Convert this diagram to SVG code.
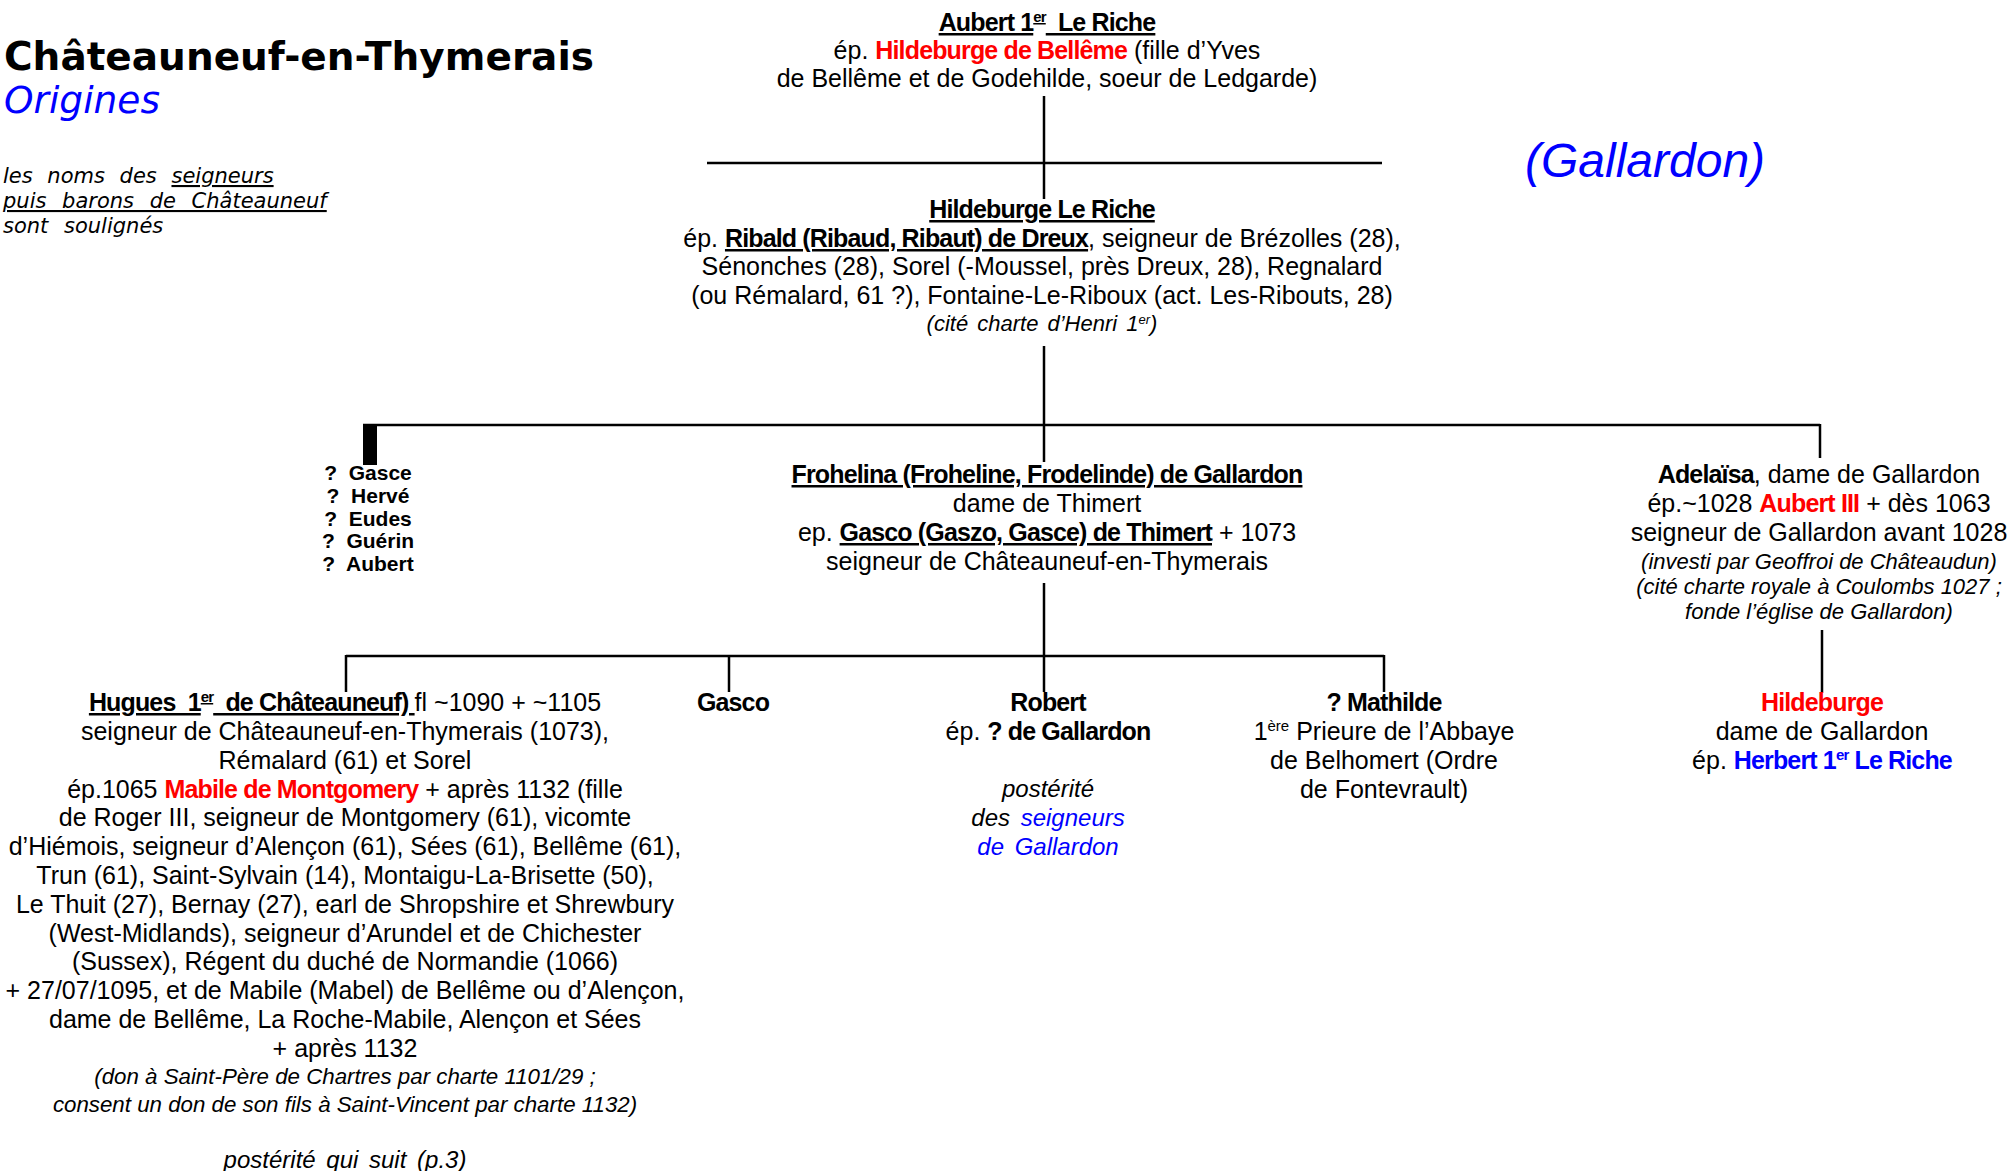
<svg xmlns="http://www.w3.org/2000/svg" width="2009" height="1171" viewBox="0 0 2009 1171">
<style>
.t{font-family:"Liberation Sans",Arial,sans-serif;font-size:25px;fill:#000}
.c{text-anchor:middle}
.b{font-weight:bold;letter-spacing:-0.85px}
.i{font-style:italic;font-size:22px}
.p{font-style:italic;font-size:24px;word-spacing:4px}
.u{text-decoration:underline}
.r{fill:#ff0000}
.bl{fill:#0000ff}
.q{font-size:21px;font-weight:bold}
.dj{font-family:"DejaVu Sans",Verdana,sans-serif}
.ln{stroke:#000;stroke-width:2.5;fill:none}
</style>
<rect width="2009" height="1171" fill="#fff"/>
<g id="legend">
<text class="dj" x="4" y="70" style="font-size:39px;font-weight:bold">Châteauneuf-en-Thymerais</text>
<text class="dj bl" x="4" y="113" style="font-size:37.5px;font-style:italic">Origines</text>
<text class="dj" x="3" y="183" style="font-size:21px;font-style:italic;word-spacing:8px">les noms des <tspan class="u">seigneurs</tspan></text>
<text class="dj u" x="3" y="208" style="font-size:21px;font-style:italic;word-spacing:9px">puis barons de Châteauneuf</text>
<text class="dj" x="3" y="233" style="font-size:21px;font-style:italic;word-spacing:9px">sont soulignés</text>
<text class="t bl" x="1525" y="177" style="font-size:48px;font-style:italic">(Gallardon)</text>
</g>
<g id="connectors">
<line class="ln" x1="1044" y1="96" x2="1044" y2="199"/>
<line class="ln" x1="707" y1="163" x2="1382" y2="163"/>
<line class="ln" x1="1044" y1="346" x2="1044" y2="462"/>
<line class="ln" x1="363" y1="425" x2="1820" y2="425"/>
<rect x="363" y="424" width="14" height="41" fill="#000"/>
<line class="ln" x1="1820" y1="424" x2="1820" y2="458"/>
<line class="ln" x1="1044" y1="583" x2="1044" y2="692"/>
<line class="ln" x1="346" y1="656" x2="1384" y2="656"/>
<line class="ln" x1="346" y1="655" x2="346" y2="692"/>
<line class="ln" x1="729" y1="656" x2="729" y2="692"/>
<line class="ln" x1="1384" y1="655" x2="1384" y2="692"/>
<line class="ln" x1="1822" y1="630" x2="1822" y2="693"/>
</g>
<g id="aubert1">
<text class="t c" x="1047" y="31"><tspan class="b u">Aubert 1<tspan dy="-9" font-size="15">er</tspan><tspan dy="9">&#160; Le Riche</tspan></tspan></text>
<text class="t c" x="1047" y="59">ép. <tspan class="b r">Hildeburge de Bellême</tspan> (fille d’Yves</text>
<text class="t c" x="1047" y="87">de Bellême et de Godehilde, soeur de Ledgarde)</text>
</g>
<g id="hildeburge-le-riche">
<text class="t c" x="1042" y="218"><tspan class="b u">Hildeburge Le Riche</tspan></text>
<text class="t c" x="1042" y="247">ép. <tspan class="b u">Ribald (Ribaud, Ribaut) de Dreux</tspan>, seigneur de Brézolles (28),</text>
<text class="t c" x="1042" y="275">Sénonches (28), Sorel (-Moussel, près Dreux, 28), Regnalard</text>
<text class="t c" x="1042" y="304">(ou Rémalard, 61 ?), Fontaine-Le-Riboux (act. Les-Ribouts, 28)</text>
<text class="t c i" x="1042" y="331" style="word-spacing:3px">(cité charte d’Henri 1<tspan dy="-7" font-size="13">er</tspan><tspan dy="7">)</tspan></text>
</g>
<g id="freres">
<text class="t c q" x="368" y="480">?&#160; Gasce</text>
<text class="t c q" x="368" y="503">?&#160; Hervé</text>
<text class="t c q" x="368" y="526">?&#160; Eudes</text>
<text class="t c q" x="368" y="548">?&#160; Guérin</text>
<text class="t c q" x="368" y="571">?&#160; Aubert</text>
</g>
<g id="frohelina">
<text class="t c" x="1047" y="483"><tspan class="b u">Frohelina (Froheline, Frodelinde) de Gallardon</tspan></text>
<text class="t c" x="1047" y="512">dame de Thimert</text>
<text class="t c" x="1047" y="541">ep. <tspan class="b u">Gasco (Gaszo, Gasce) de Thimert</tspan> + 1073</text>
<text class="t c" x="1047" y="570">seigneur de Châteauneuf-en-Thymerais</text>
</g>
<g id="adelaisa">
<text class="t c" x="1819" y="483"><tspan class="b">Adelaïsa</tspan>, dame de Gallardon</text>
<text class="t c" x="1819" y="512">ép.~1028 <tspan class="b r">Aubert III</tspan> + dès 1063</text>
<text class="t c" x="1819" y="541">seigneur de Gallardon avant 1028</text>
<text class="t c i" x="1819" y="569">(investi par Geoffroi de Châteaudun)</text>
<text class="t c i" x="1819" y="594">(cité charte royale à Coulombs 1027 ;</text>
<text class="t c i" x="1819" y="619">fonde l’église de Gallardon)</text>
</g>
<g id="hugues">
<text class="t c" x="345" y="711"><tspan class="b u">Hugues&#160; 1<tspan dy="-9" font-size="15">er</tspan><tspan dy="9">&#160; de Châteauneuf) </tspan></tspan>fl ~1090 + ~1105</text>
<text class="t c" x="345" y="740">seigneur de Châteauneuf-en-Thymerais (1073),</text>
<text class="t c" x="345" y="769">Rémalard (61) et Sorel</text>
<text class="t c" x="345" y="798">ép.1065 <tspan class="b r">Mabile de Montgomery</tspan> + après 1132 (fille</text>
<text class="t c" x="345" y="826">de Roger III, seigneur de Montgomery (61), vicomte</text>
<text class="t c" x="345" y="855">d’Hiémois, seigneur d’Alençon (61), Sées (61), Bellême (61),</text>
<text class="t c" x="345" y="884">Trun (61), Saint-Sylvain (14), Montaigu-La-Brisette (50),</text>
<text class="t c" x="345" y="913">Le Thuit (27), Bernay (27), earl de Shropshire et Shrewbury</text>
<text class="t c" x="345" y="942">(West-Midlands), seigneur d’Arundel et de Chichester</text>
<text class="t c" x="345" y="970">(Sussex), Régent du duché de Normandie (1066)</text>
<text class="t c" x="345" y="999">+ 27/07/1095, et de Mabile (Mabel) de Bellême ou d’Alençon,</text>
<text class="t c" x="345" y="1028">dame de Bellême, La Roche-Mabile, Alençon et Sées</text>
<text class="t c" x="345" y="1057">+ après 1132</text>
<text class="t c i" x="345" y="1084" style="font-size:22.3px">(don à Saint-Père de Chartres par charte 1101/29 ;</text>
<text class="t c i" x="345" y="1112" style="font-size:22.3px">consent un don de son fils à Saint-Vincent par charte 1132)</text>
<text class="t c p" x="345" y="1168">postérité qui suit (p.3)</text>
</g>
<g id="gasco">
<text class="t c b" x="733" y="711">Gasco</text>
</g>
<g id="robert">
<text class="t c b" x="1048" y="711">Robert</text>
<text class="t c" x="1048" y="740">ép. <tspan class="b">? de Gallardon</tspan></text>
<text class="t c p" x="1048" y="797">postérité</text>
<text class="t c p" x="1048" y="826">des <tspan class="bl">seigneurs</tspan></text>
<text class="t c p bl" x="1048" y="855">de Gallardon</text>
</g>
<g id="mathilde">
<text class="t c b" x="1384" y="711">? Mathilde</text>
<text class="t c" x="1384" y="740">1<tspan dy="-9" font-size="15">ère</tspan><tspan dy="9"> Prieure de l’Abbaye</tspan></text>
<text class="t c" x="1384" y="769">de Belhomert (Ordre</text>
<text class="t c" x="1384" y="798">de Fontevrault)</text>
</g>
<g id="hildeburge-gallardon">
<text class="t c b r" x="1822" y="711">Hildeburge</text>
<text class="t c" x="1822" y="740">dame de Gallardon</text>
<text class="t c" x="1822" y="769">ép. <tspan class="b bl">Herbert 1<tspan dy="-9" font-size="15">er</tspan><tspan dy="9"> Le Riche</tspan></tspan></text>
</g>
</svg>
